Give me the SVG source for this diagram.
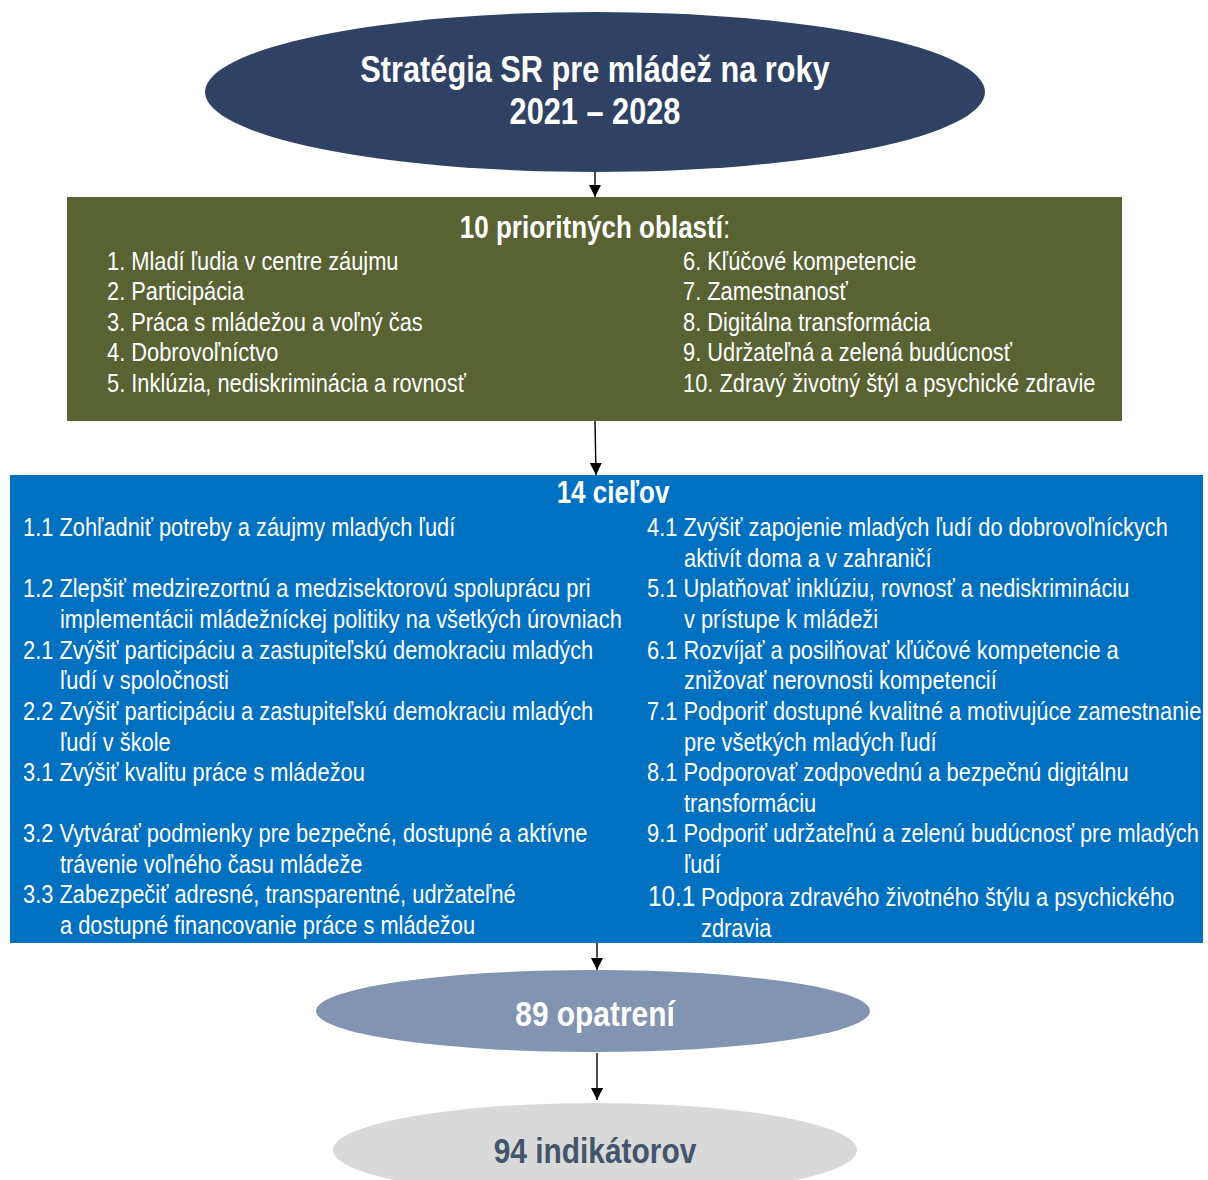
<svg xmlns="http://www.w3.org/2000/svg" width="1208" height="1180" viewBox="0 0 1208 1180">
<style>
text{font-family:"Liberation Sans","Arial Narrow",Arial,sans-serif;}
.t{font-size:26px;fill:#fff;}
.h{font-size:31px;font-weight:bold;fill:#fff;}
.edge{stroke:#000;stroke-width:1.4;fill:none;marker-end:url(#ah);}
</style>
<defs>
<marker id="ah" viewBox="0 0 10 10" refX="10" refY="5" markerWidth="12" markerHeight="12" markerUnits="userSpaceOnUse" orient="auto">
<path d="M0,0 L10,5 L0,10 z" fill="#000"/>
</marker>
</defs>
<rect width="1208" height="1180" fill="#fff"/>
<g id="connectors">
<line class="edge" x1="595" y1="172" x2="595" y2="197"/>
<line class="edge" x1="595" y1="421" x2="596" y2="475"/>
<line class="edge" x1="597" y1="943" x2="597" y2="970"/>
<line class="edge" x1="597" y1="1053" x2="597" y2="1100"/>
</g>
<g id="strategia">
<ellipse cx="595" cy="92" rx="390" ry="80" fill="#304263"/>
<text transform="translate(595,82) scale(0.83,1)" text-anchor="middle" style="font-size:37px;font-weight:bold;fill:#fff">Stratégia SR pre mládež na roky</text>
<text transform="translate(595,124) scale(0.83,1)" text-anchor="middle" style="font-size:37px;font-weight:bold;fill:#fff">2021 – 2028</text>
</g>
<g id="oblasti">
<rect x="67" y="197" width="1055" height="224" fill="#586233"/>
<text transform="translate(595,238) scale(0.84,1)" text-anchor="middle" class="h">10 prioritných oblastí<tspan font-weight="normal">:</tspan></text>
<text class="t" transform="translate(107,270) scale(0.84,1)">1. Mladí ľudia v centre záujmu</text>
<text class="t" transform="translate(107,300) scale(0.84,1)">2. Participácia</text>
<text class="t" transform="translate(107,331) scale(0.84,1)">3. Práca s mládežou a voľný čas</text>
<text class="t" transform="translate(107,361) scale(0.84,1)">4. Dobrovoľníctvo</text>
<text class="t" transform="translate(107,392) scale(0.84,1)">5. Inklúzia, nediskriminácia a rovnosť</text>
<text class="t" transform="translate(683,270) scale(0.84,1)">6. Kľúčové kompetencie</text>
<text class="t" transform="translate(683,300) scale(0.84,1)">7. Zamestnanosť</text>
<text class="t" transform="translate(683,331) scale(0.84,1)">8. Digitálna transformácia</text>
<text class="t" transform="translate(683,361) scale(0.84,1)">9. Udržateľná a zelená budúcnosť</text>
<text class="t" transform="translate(683,392) scale(0.84,1)">10. Zdravý životný štýl a psychické zdravie</text>
</g>
<g id="ciele">
<rect x="10" y="475" width="1193" height="468" fill="#0070C0"/>
<text transform="translate(613,503) scale(0.84,1)" text-anchor="middle" class="h">14 cieľov</text>
<text class="t" transform="translate(23,536) scale(0.84,1)">1.1 Zohľadniť potreby a záujmy mladých ľudí</text>
<text class="t" transform="translate(23,597) scale(0.84,1)">1.2 Zlepšiť medzirezortnú a medzisektorovú spoluprácu pri</text>
<text class="t" transform="translate(60,628) scale(0.84,1)">implementácii mládežníckej politiky na všetkých úrovniach</text>
<text class="t" transform="translate(23,659) scale(0.84,1)">2.1 Zvýšiť participáciu a zastupiteľskú demokraciu mladých</text>
<text class="t" transform="translate(60,689) scale(0.84,1)">ľudí v spoločnosti</text>
<text class="t" transform="translate(23,720) scale(0.84,1)">2.2 Zvýšiť participáciu a zastupiteľskú demokraciu mladých</text>
<text class="t" transform="translate(60,751) scale(0.84,1)">ľudí v škole</text>
<text class="t" transform="translate(23,781) scale(0.84,1)">3.1 Zvýšiť kvalitu práce s mládežou</text>
<text class="t" transform="translate(23,842) scale(0.84,1)">3.2 Vytvárať podmienky pre bezpečné, dostupné a aktívne</text>
<text class="t" transform="translate(60,873) scale(0.84,1)">trávenie voľného času mládeže</text>
<text class="t" transform="translate(23,903) scale(0.84,1)">3.3 Zabezpečiť adresné, transparentné, udržateľné</text>
<text class="t" transform="translate(60,934) scale(0.84,1)">a dostupné financovanie práce s mládežou</text>
<text class="t" transform="translate(647,536) scale(0.84,1)">4.1 Zvýšiť zapojenie mladých ľudí do dobrovoľníckych</text>
<text class="t" transform="translate(684,567) scale(0.84,1)">aktivít doma a v zahraničí</text>
<text class="t" transform="translate(647,597) scale(0.84,1)">5.1 Uplatňovať inklúziu, rovnosť a nediskrimináciu</text>
<text class="t" transform="translate(684,628) scale(0.84,1)">v prístupe k mládeži</text>
<text class="t" transform="translate(647,659) scale(0.84,1)">6.1 Rozvíjať a posilňovať kľúčové kompetencie a</text>
<text class="t" transform="translate(684,689) scale(0.84,1)">znižovať nerovnosti kompetencií</text>
<text class="t" transform="translate(647,720) scale(0.84,1)">7.1 Podporiť dostupné kvalitné a motivujúce zamestnanie</text>
<text class="t" transform="translate(684,751) scale(0.84,1)">pre všetkých mladých ľudí</text>
<text class="t" transform="translate(647,781) scale(0.84,1)">8.1 Podporovať zodpovednú a bezpečnú digitálnu</text>
<text class="t" transform="translate(684,812) scale(0.84,1)">transformáciu</text>
<text class="t" transform="translate(647,842) scale(0.84,1)">9.1 Podporiť udržateľnú a zelenú budúcnosť pre mladých</text>
<text class="t" transform="translate(684,873) scale(0.84,1)">ľudí</text>
<text class="t" transform="translate(648,906) scale(0.84,1)" style="font-size:29px">10.1</text>
<text class="t" transform="translate(701,906) scale(0.84,1)">Podpora zdravého životného štýlu a psychického</text>
<text class="t" transform="translate(701,937) scale(0.84,1)">zdravia</text>
</g>
<g id="opatrenia">
<ellipse cx="593" cy="1011" rx="277" ry="41" fill="#8194B1"/>
<text transform="translate(595,1026) scale(0.83,1)" text-anchor="middle" style="font-size:36px;font-weight:bold;fill:#fff">89 opatrení</text>
</g>
<g id="indikatory">
<ellipse cx="595" cy="1150" rx="262" ry="47" fill="#D9D9D9"/>
<text transform="translate(595,1163) scale(0.83,1)" text-anchor="middle" style="font-size:36px;font-weight:bold;fill:#44546A">94 indikátorov</text>
</g>
</svg>
